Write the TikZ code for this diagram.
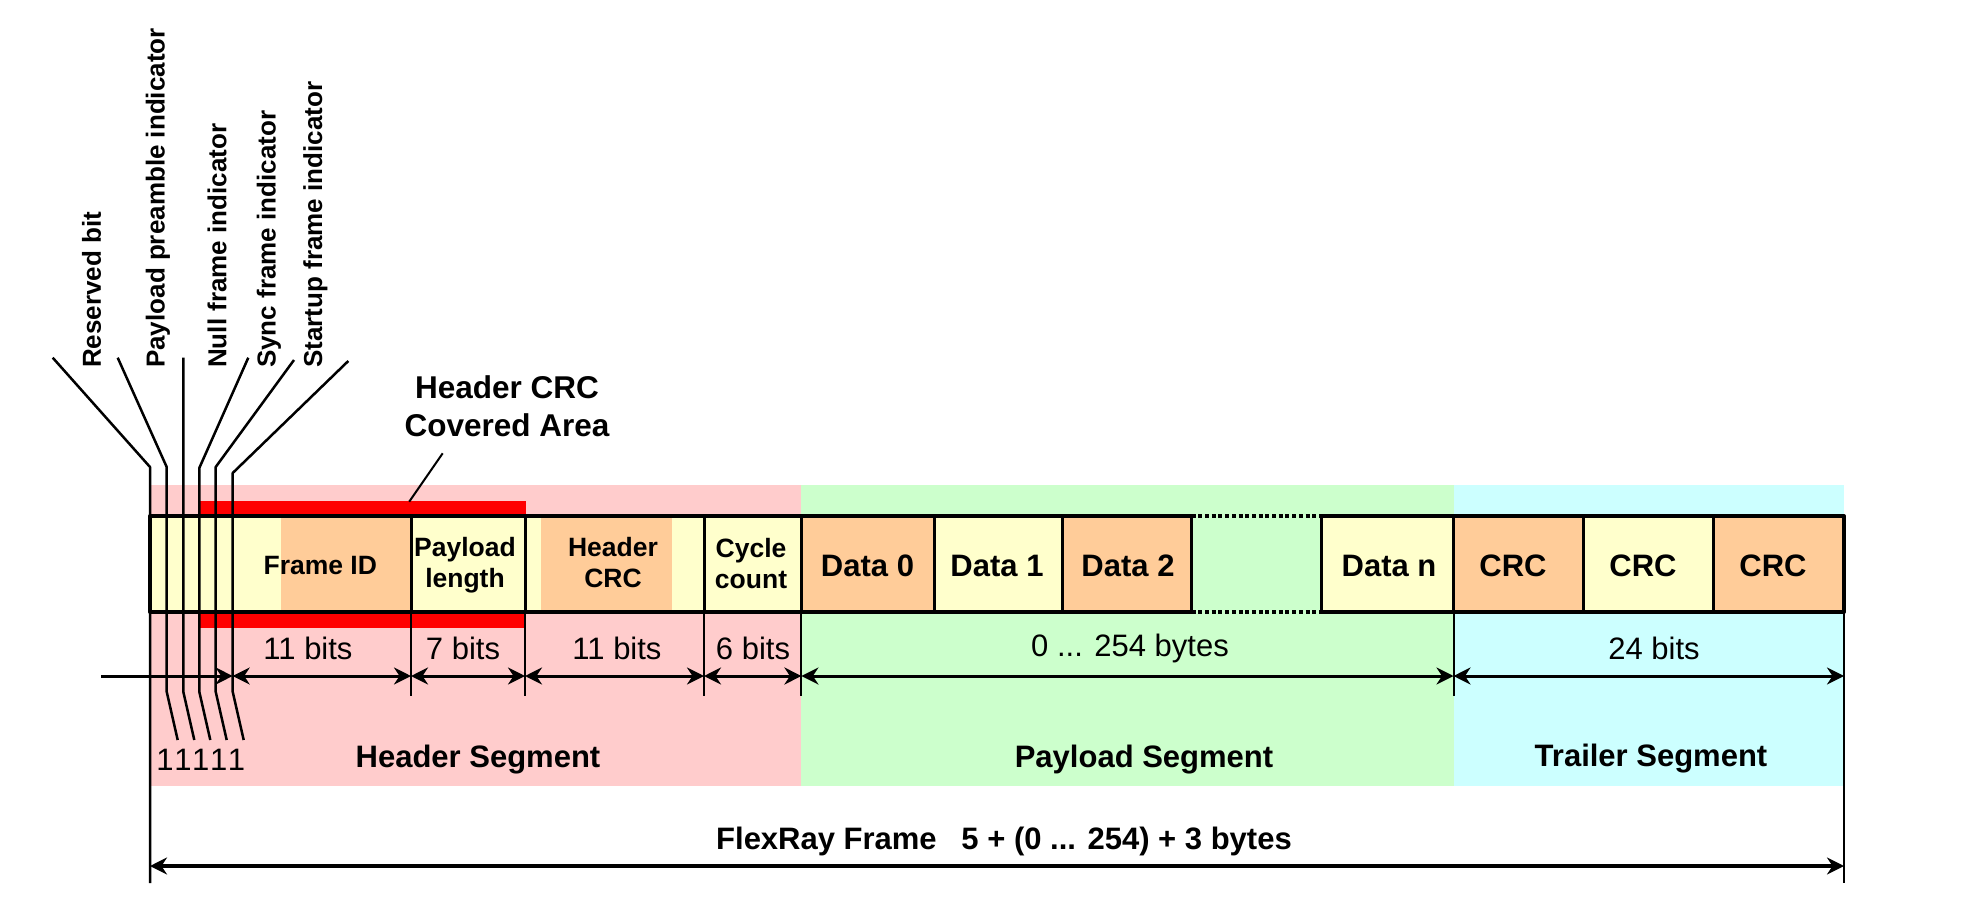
\documentclass[tikz,border=0pt]{standalone}
\usepackage{fontspec}
\setmainfont{Liberation Sans}
\usepackage{tikz}
\usetikzlibrary{arrows.meta}

\definecolor{segpink}{HTML}{FFCCCC}
\definecolor{seggreen}{HTML}{CCFFCC}
\definecolor{segcyan}{HTML}{CCFFFF}
\definecolor{cellyellow}{HTML}{FFFFCC}
\definecolor{cellorange}{HTML}{FFCC99}

\tikzset{
  fieldtext/.style={font=\fontsize{26.5}{31}\selectfont\bfseries, align=center, inner sep=0pt},
  bigtext/.style={font=\fontsize{31}{36}\selectfont\bfseries, align=center, inner sep=0pt},
  bittext/.style={font=\fontsize{26}{30}\selectfont\bfseries, rotate=90, anchor=west, inner sep=0pt},
  sizetext/.style={font=\fontsize{31}{36}\selectfont, inner sep=0pt},
  sizetip/.tip={Stealth[length=17pt,width=17pt,inset=5.5pt]},
  dimarrow/.style={sizetip-sizetip, line width=3pt},
}

\begin{document}
\begin{tikzpicture}[x=1pt, y=-1pt, line join=round]
  \useasboundingbox (0,0) rectangle (1986,912);

  % frame properties
  \def\ftop{516}   % top of the frame
  \def\fbot{612}   % bottom of the frame
  \def\dimy{676}   % height of the size arrows

  % segment backgrounds
  \fill[segpink]  (150,485) rectangle (801.4,786);
  \fill[seggreen] (801.4,485) rectangle (1453.5,786);
  \fill[segcyan]  (1453.5,485) rectangle (1844,786);

  % header crc covered area
  \fill[red] (199.4,501) rectangle (526,627.7);

  % cells
  \foreach \xa/\xb/\c in {150/281/cellyellow, 281/411/cellorange, 411/541/cellyellow,
      541/672/cellorange, 672/801.4/cellyellow, 801.4/934/cellorange, 934/1062/cellyellow,
      1062/1191.6/cellorange, 1321.5/1453.5/cellyellow, 1453.5/1583.3/cellorange,
      1583.3/1713.3/cellyellow, 1713.3/1844/cellorange}
    \fill[\c] (\xa,\ftop) rectangle (\xb,\fbot);

  % dividers
  \foreach \x in {411,525,704,801.4,934,1062,1191.6,1321.5,1453.5,1583.3,1713.3}
    \draw[line width=3pt] (\x,\ftop) -- (\x,\fbot);

  % frame outline
  \draw[line width=4pt] (1191.6,\ftop) -- (150,\ftop) -- (150,\fbot) -- (1191.6,\fbot);
  \draw[line width=4pt] (1321.5,\ftop) -- (1844,\ftop) -- (1844,\fbot) -- (1321.5,\fbot);
  \draw[line width=4pt, dash pattern=on 4pt off 2.7pt] (1191.6,\ftop) -- (1321.5,\ftop);
  \draw[line width=4pt, dash pattern=on 4pt off 2.7pt] (1191.6,\fbot) -- (1321.5,\fbot);

  % indicator bits
  \draw[line width=2.5pt] (52.7,357.7) -- (150,467) -- (150,883);
  \foreach \tx/\ty/\bx/\by in {117.7/357.7/166.7/467, 183.3/357.7/183.3/467,
      248.3/357.7/199.3/468, 294/360/215.7/467, 348.3/361/232.7/473}
    \draw[line width=2.5pt] (\tx,\ty) -- (\bx,\by) -- (\bx,691.7) -- ({\bx+11},740);
  \foreach \i in {0,...,4}
    \node[sizetext, font=\fontsize{31}{35}\selectfont] (one\i) at ({165+17.9*\i},760) {1};

  % bit labels
  \node[bittext] (resbit) at (91.7,368) {Reserved bit};
  \node[bittext] (ppind) at (158,368) {Payload preamble indicator};
  \node[bittext] (nullind) at (217,368) {Null frame indicator};
  \node[bittext] (syncind) at (268.8,368) {Sync frame indicator};
  \node[bittext] (startind) at (315.5,368) {Startup frame indicator};

  % field names
  \node[fieldtext] (frameid) at (320.3,566) {Frame ID};
  \node[fieldtext] (paylen) at (465,565) {Payload\\length};
  \node[fieldtext] (hcrc) at (613,563) {Header\\CRC};
  \node[fieldtext] (cycle) at (751,564) {Cycle\\count};
  \node[bigtext] (data0) at (867.5,566) {Data 0};
  \node[bigtext] (data1) at (997,566) {Data 1};
  \node[bigtext] (data2) at (1128,566) {Data 2};
  \node[bigtext] (datan) at (1389,566) {Data n};
  \node[bigtext] (crc1) at (1513,566) {CRC};
  \node[bigtext] (crc2) at (1643,566) {CRC};
  \node[bigtext] (crc3) at (1773,566) {CRC};

  % covered area label
  \node[bigtext, font=\fontsize{31.5}{37.5}\selectfont\bfseries] (crcarea) at (507,406) {Header CRC\\Covered Area};
  \coordinate (crclead) at (442.7,453.3);
  \coordinate (crcbar) at (409.2,501.7);
  \draw[line width=2pt] (crclead) -- (crcbar);

  % size ticks
  \foreach \x in {411,525,704,801.4,1453.5}
    \draw[line width=2pt] (\x,\fbot) -- (\x,696);
  \draw[line width=2pt] (1844,\fbot) -- (1844,883);

  % size arrows
  \foreach \n/\x in {a/232.7, b/411, c/525, d/704, e/801.4, f/1453.5, g/1844}
    \coordinate (dim\n) at (\x,\dimy);
  \coordinate (startin) at (101,\dimy);
  \draw[line width=3pt, -sizetip] (startin) -- (dima);
  \draw[dimarrow] (dima) -- (dimb);
  \draw[dimarrow] (dimb) -- (dimc);
  \draw[dimarrow] (dimc) -- (dimd);
  \draw[dimarrow] (dimd) -- (dime);
  \draw[dimarrow] (dime) -- (dimf);
  \draw[dimarrow] (dimf) -- (dimg);
  \node[sizetext] (fidsize) at (308,648) {11 bits};
  \node[sizetext] (plsize) at (463,648) {7 bits};
  \node[sizetext] (hcrcsize) at (617,648) {11 bits};
  \node[sizetext] (ccsize) at (753,648) {6 bits};
  \node[sizetext] (paysize) at (1130,648) {0 ... 254 bytes};
  \node[sizetext] (trsize) at (1654,648) {24 bits};

  % segment names
  \node[bigtext] (hseg) at (478,760) {Header Segment};
  \node[bigtext] (pseg) at (1144,760) {Payload Segment};
  \node[bigtext] (tseg) at (1651,759) {Trailer Segment};

  % whole frame
  \coordinate (framestart) at (150,866);
  \coordinate (frameend) at (1844,866);
  \draw[line width=3.5pt, sizetip-sizetip] (framestart) -- (frameend);
  \node[bigtext] (frametot) at (1004,841) {FlexRay Frame\hspace{0.8em}5 + (0 ... 254) + 3 bytes};

\end{tikzpicture}
\end{document}
